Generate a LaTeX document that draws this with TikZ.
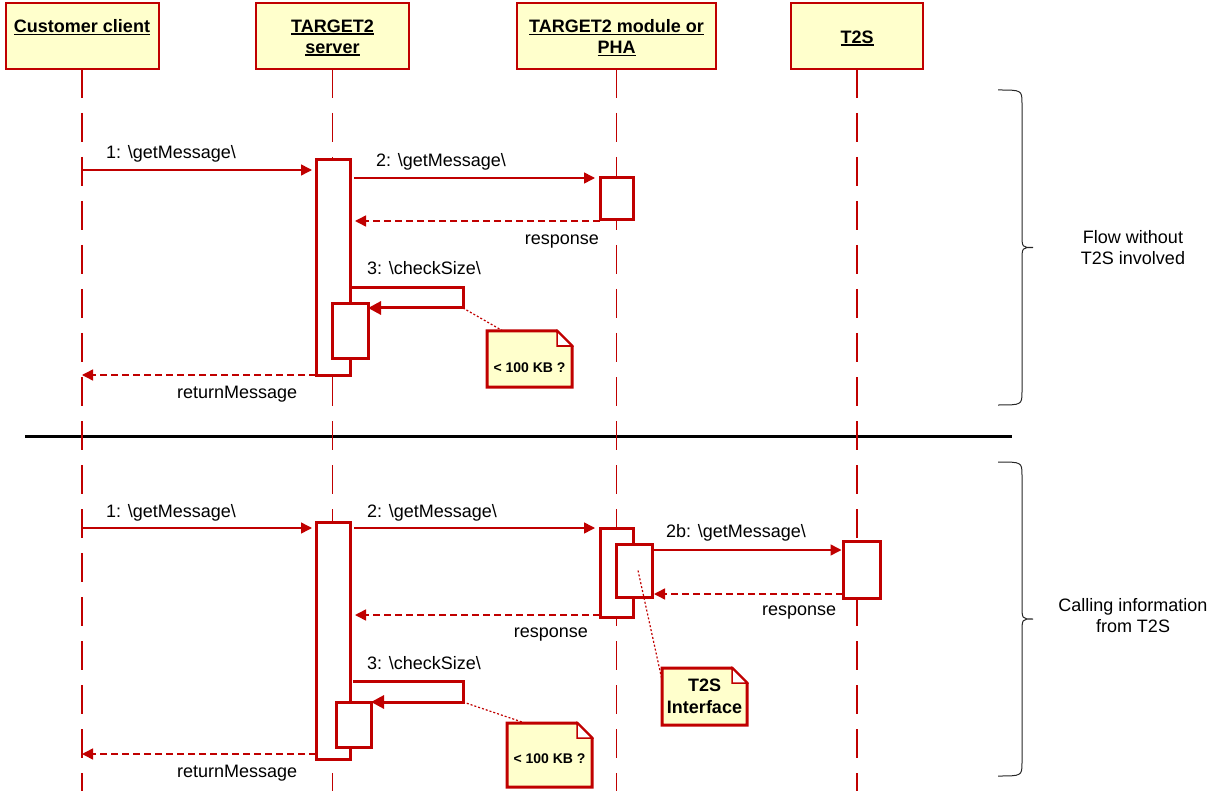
\documentclass[tikz,border=0pt]{standalone}
\usepackage{fontspec}
\setmainfont{Liberation Sans}
\usetikzlibrary{arrows.meta,backgrounds}
\definecolor{umlred}{RGB}{192,0,0}
\definecolor{umlyel}{RGB}{255,255,204}
\newcommand\hdrul[1]{\setbox0=\hbox{#1}\rlap{\rule[-2.5pt]{\wd0}{1.6pt}}\box0}
\begin{document}
\begin{tikzpicture}[x=1pt,y=-1pt,
  font=\fontsize{18}{21}\selectfont,
  hdr/.style={draw=umlred,line width=2pt,fill=umlyel,minimum height=66pt,inner sep=0pt,outer sep=0pt},
  hdrtxt/.style={font=\fontsize{18}{21}\selectfont\bfseries,align=center,anchor=north,inner sep=0pt},
  life/.style={draw=umlred,line width=1.5pt,dash pattern=on 29pt off 15pt},
  act/.style={draw=umlred,line width=3pt,fill=white,inner sep=0pt,outer sep=0pt},
  msg/.style={draw=umlred,line width=1.5pt,-{Triangle[length=11pt,width=11pt]}},
  ret/.style={msg,dash pattern=on 7pt off 4pt},
  selfmsg/.style={draw=umlred,line width=3pt,-{Triangle[length=13pt,width=13pt]}},
  lbl/.style={inner sep=0pt},
  notebox/.style={inner sep=0pt,outer sep=0pt,align=center,font=\fontsize{14}{17}\selectfont\bfseries},
  noteline/.style={draw=umlred,line width=1.2pt,dash pattern=on 2pt off 2pt},
  notebody/.style={draw=umlred,line width=3pt,fill=umlyel,line join=miter},
  fold/.style={draw=umlred,line width=1.5pt,fill=white},
  brace/.style={draw=black!85,line width=1pt},
  sep/.style={draw=black,line width=3pt}
]
\useasboundingbox (0,0) rectangle (1212,791);

% ---------- separator ----------
\coordinate (sepL) at (25,436);
\coordinate (sepR) at (1012,436);
\draw[sep] (sepL) -- (sepR);

% ---------- headers ----------
\node[hdr,minimum width=153pt] (cc) at (82,36) {};
\node[hdr,minimum width=153pt] (sv) at (332.5,36) {};
\node[hdr,minimum width=199pt] (md) at (616.5,36) {};
\node[hdr,minimum width=132pt] (ts) at (857,36) {};
\node[hdrtxt] (cct) at (82,19.5) {\hdrul{Customer client}};
\node[hdrtxt] (svt) at (332.5,19.5) {\hdrul{TARGET2}\\\hdrul{server}};
\node[hdrtxt] (mdt) at (616.5,19.5) {\hdrul{TARGET2 module or}\\\hdrul{PHA}};
\node[hdrtxt] (tst) at (857,30.5) {\hdrul{T2S}};

% ---------- lifelines ----------
\coordinate (ccB) at (cc.south |- 0,791);
\coordinate (svB) at (sv.south |- 0,791);
\coordinate (mdB) at (md.south |- 0,791);
\coordinate (tsB) at (ts.south |- 0,791);
\draw[life] (cc.south) -- (ccB);
\draw[life] (sv.south) -- (svB);
\draw[life] (md.south) -- (mdB);
\draw[life] (ts.south) -- (tsB);

% ---------- activation boxes: top ----------
\node[act,minimum width=34pt,minimum height=215pt] (sA) at (333,267.5) {};
\node[act,minimum width=33pt,minimum height=42pt] (mA) at (616.5,199) {};
\node[act,minimum width=36pt,minimum height=54pt] (sA2) at (350,331) {};

% ---------- activation boxes: bottom ----------
\node[act,minimum width=34pt,minimum height=237pt] (sB) at (333,640.5) {};
\node[act,minimum width=33pt,minimum height=89pt] (mB) at (616.5,572.5) {};
\node[act,minimum width=36pt,minimum height=53pt] (mB2) at (634,570.5) {};
\node[act,minimum width=37pt,minimum height=57pt] (tB) at (861.5,569.5) {};
\node[act,minimum width=35pt,minimum height=45pt] (sB2) at (353.5,724.5) {};

% ---------- notes ----------
\node[notebox,minimum width=85pt,text height=41pt,text depth=15pt] (n1) at (529.5,359) {< 100 KB ?};
\node[notebox,minimum width=85pt,text height=40pt,text depth=24pt] (n2) at (549.5,755) {< 100 KB ?};
\node[notebox,minimum width=85pt,minimum height=57pt,font=\fontsize{18}{22}\selectfont\bfseries] (n3) at (704.5,696.5) {T2S\\Interface};
\begin{scope}[on background layer]
\foreach \n in {n1,n2,n3}{
  \draw[notebody] (\n.north west) -- ([xshift=-15pt]\n.north east) -- ([yshift=-15pt]\n.north east) -- (\n.south east) -- (\n.south west) -- cycle;
  \draw[fold] ([xshift=-15pt]\n.north east) -- ([xshift=-15pt,yshift=-15pt]\n.north east) -- ([yshift=-15pt]\n.north east) -- cycle;
}
\end{scope}

% ---------- top messages ----------
\draw[msg,shorten >=4pt] (cc.south |- 0,170) -- (sA.west |- 0,170);
\node[lbl,anchor=base west] (l1) at (106,159) {1: \textbackslash getMessage\textbackslash};
\draw[msg,shorten <=4pt,shorten >=5pt] (sA.east |- 0,178) -- (mA.west |- 0,178);
\node[lbl,anchor=base west] (l2) at (376,167) {2: \textbackslash getMessage\textbackslash};
\draw[ret,shorten >=5pt] (mA.west |- 0,221) -- (sA.east |- 0,221);
\node[lbl,anchor=base east] (l3) at (599,245) {response};
\coordinate (c1a) at (463,288);
\coordinate (c1b) at (463,308);
\draw[selfmsg] (sA.east |- 0,288) -- (c1a) -- (c1b) -- (sA2.east |- 0,308);
\node[lbl,anchor=base west] (l4) at (367,275) {3: \textbackslash checkSize\textbackslash};
\draw[ret] (sA.west |- 0,375) -- (cc.south |- 0,375);
\node[lbl,anchor=base west] (l5) at (177,398) {returnMessage};
\draw[noteline] (c1b) -- ([xshift=16pt]n1.north west);

% ---------- bottom messages ----------
\draw[msg,shorten >=4pt] (cc.south |- 0,528) -- (sB.west |- 0,528);
\node[lbl,anchor=base west] (b1) at (106,517) {1: \textbackslash getMessage\textbackslash};
\draw[msg,shorten <=4pt,shorten >=5pt] (sB.east |- 0,528) -- (mB.west |- 0,528);
\node[lbl,anchor=base west] (b2) at (367,517) {2: \textbackslash getMessage\textbackslash};
\draw[msg,shorten >=1.5pt] (mB2.east |- 0,550) -- (tB.west |- 0,550);
\node[lbl,anchor=base west] (b3) at (666,537) {2b: \textbackslash getMessage\textbackslash};
\draw[ret,shorten >=2pt] (tB.west |- 0,594) -- (mB2.east |- 0,594);
\node[lbl,anchor=base west] (b4) at (762,615) {response};
\draw[ret,shorten >=5pt] (mB.west |- 0,615) -- (sB.east |- 0,615);
\node[lbl,anchor=base east] (b5) at (588,637) {response};
\coordinate (c2a) at (463,681);
\coordinate (c2b) at (463,702);
\draw[selfmsg,shorten <=3pt] (sB.east |- 0,681) -- (c2a) -- (c2b) -- (sB2.east |- 0,702);
\node[lbl,anchor=base west] (b6) at (367,669) {3: \textbackslash checkSize\textbackslash};
\draw[ret] (sB.west |- 0,754) -- (cc.south |- 0,754);
\node[lbl,anchor=base west] (b7) at (177,777) {returnMessage};
\draw[noteline] (c2b) -- ([xshift=18pt]n2.north west);
\draw[noteline] ([xshift=4pt]mB2.center) -- ([yshift=-12pt]n3.north west);

% ---------- braces ----------
\draw[brace] (998,90) .. controls (1022,90) .. (1022,104) -- (1022,234) .. controls (1022,247.5) .. (1033,247.5) .. controls (1022,247.5) .. (1022,261) -- (1022,391) .. controls (1022,405) .. (998,405);
\draw[brace] (998,462) .. controls (1022,462) .. (1022,476) -- (1022,605) .. controls (1022,619) .. (1033,619) .. controls (1022,619) .. (1022,633) -- (1022,762) .. controls (1022,776) .. (998,776);
\node[lbl,align=center] (f1) at (1133,248) {Flow without\\T2S involved};
\node[lbl,align=center] (f2) at (1133,616) {Calling information\\from T2S};
\end{tikzpicture}
\end{document}
